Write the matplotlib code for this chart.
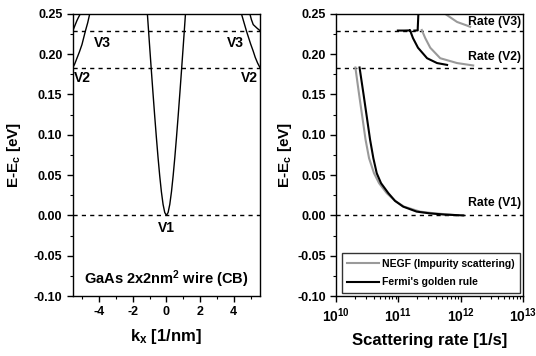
import matplotlib
matplotlib.use("Agg")
import matplotlib.pyplot as plt
from matplotlib.ticker import MultipleLocator, LogLocator, NullFormatter, FormatStrFormatter

plt.rcParams['font.family'] = ['Liberation Sans', 'DejaVu Sans']
plt.rcParams['font.weight'] = 'bold'
plt.rcParams['mathtext.fontset'] = 'custom'
plt.rcParams['mathtext.rm'] = 'Liberation Sans:bold'
plt.rcParams['mathtext.it'] = 'Liberation Sans:bold'
plt.rcParams['mathtext.bf'] = 'Liberation Sans:bold'
plt.rcParams['mathtext.default'] = 'rm'
plt.rcParams['axes.unicode_minus'] = False

# ---------------- data ----------------
# band levels (subband minima)
levels = [0.0, 0.1834, 0.2293]

# V1 subband (centre of zone)
v1_k = [-1.14, -1.1, -1.0, -0.9, -0.8, -0.7, -0.6, -0.5, -0.4, -0.3, -0.2, -0.1, 0.0,
        0.1, 0.2, 0.3, 0.4, 0.5, 0.6, 0.7, 0.8, 0.9, 1.0, 1.1, 1.14]
v1_E = [0.2525, 0.2403, 0.2103, 0.1809, 0.1521, 0.1241, 0.0974, 0.0722, 0.0493, 0.0294, 0.0137, 0.0036, 0.0,
        0.0036, 0.0137, 0.0294, 0.0493, 0.0722, 0.0974, 0.1241, 0.1521, 0.1809, 0.2103, 0.2403, 0.2525]

# V2 subband (zone edges)
v2_left_k = [-5.56, -5.45, -5.32, -5.17, -5.02, -4.82, -4.68, -4.56]
v2_left_E = [0.1834, 0.188, 0.195, 0.203, 0.212, 0.2285, 0.239, 0.250]
v2_right_k = [5.56, 5.42, 5.28, 5.16, 5.0, 4.76, 4.6, 4.46]
v2_right_E = [0.1834, 0.189, 0.196, 0.2037, 0.213, 0.2285, 0.240, 0.250]

# V3 subband (zone edges)
v3_left_k = [-5.56, -5.45, -5.32, -5.22, -5.12]
v3_left_E = [0.2293, 0.235, 0.2417, 0.246, 0.250]
v3_right_k = [5.56, 5.4, 5.16, 5.05, 4.96]
v3_right_E = [0.2293, 0.232, 0.2367, 0.243, 0.250]

# scattering rates (1/s) vs energy (eV)
rate_v1_E = [0.1835, 0.15, 0.12, 0.094, 0.071, 0.0523, 0.04, 0.0276, 0.018, 0.0109, 0.0047, 0.0025, 0.001, 0.0]
fgr_v1 = [2.38e10, 2.76e10, 3.14e10, 3.51e10, 3.96e10, 4.49e10, 5.26e10, 6.89e10, 8.83e10,
          1.19e11, 1.96e11, 3.21e11, 5.58e11, 1.10e12]
negf_v1 = [2.04e10, 2.34e10, 2.66e10, 2.97e10, 3.38e10, 4.06e10, 4.89e10, 6.49e10, 8.83e10,
           1.23e11, 2.22e11, 3.86e11, 6.71e11, 9.02e11]

fgr_v2_E = [0.2293, 0.2293, 0.2295, 0.230, 0.220, 0.208, 0.195, 0.189, 0.1867]
fgr_v2 = [9.8e10, 1.25e11, 1.53e11, 1.53e11, 1.71e11, 2.06e11, 2.88e11, 4.16e11, 6.03e11]
negf_v2_E = [0.230, 0.220, 0.208, 0.195, 0.189, 0.186]
negf_v2 = [2.37e11, 2.69e11, 3.24e11, 4.68e11, 8.71e11, 1.58e12]

fgr_v3_E = [0.2293, 0.2295, 0.232, 0.250]
fgr_v3 = [1.8e11, 2.04e11, 2.04e11, 2.09e11]
negf_v3_E = [0.250, 0.240, 0.2355, 0.234]
negf_v3 = [5.62e11, 8.71e11, 1.26e12, 1.41e12]

ylim = (-0.10, 0.25)
kx_lim = (-5.56, 5.56)
rate_lim = (1e10, 1e13)

# ---------------- figure ----------------
fig = plt.figure(figsize=(5.36, 3.56), dpi=100)
axL = fig.add_axes([0.136, 0.1685, 0.349, 0.7925])
axR = fig.add_axes([0.627, 0.1685, 0.349, 0.7925])

band_kw = dict(color='black', lw=1.0)
axL.plot(v1_k, v1_E, **band_kw)
axL.plot(v2_left_k, v2_left_E, **band_kw)
axL.plot(v2_right_k, v2_right_E, **band_kw)
axL.plot(v3_left_k, v3_left_E, **band_kw)
axL.plot(v3_right_k, v3_right_E, **band_kw)

for ax in (axL, axR):
    for lv in levels:
        ax.axhline(lv, color='black', lw=1.0, ls=(0, (3, 3)), zorder=1)

axL.set_xlim(*kx_lim)
axL.set_ylim(*ylim)
axL.xaxis.set_major_locator(MultipleLocator(2))
axL.xaxis.set_minor_locator(MultipleLocator(1))
axL.set_xlabel('k$_x$ [1/nm]', fontsize=12, fontweight='bold', labelpad=6)

txt = dict(fontsize=10, fontweight='bold')
axL.text(-4.3, 0.214, 'V3', ha='left', va='center', **txt)
axL.text(3.6, 0.214, 'V3', ha='left', va='center', **txt)
axL.text(-5.5, 0.171, 'V2', ha='left', va='center', **txt)
axL.text(4.4, 0.171, 'V2', ha='left', va='center', **txt)
axL.text(0.0, -0.016, 'V1', ha='center', va='center', **txt)
axL.text(0.0, -0.079, 'GaAs 2x2nm$^2$ wire (CB)', ha='center', va='center', fontsize=10.5, fontweight='bold')

gray = '#9a9a9a'
l1, = axR.plot(negf_v1, rate_v1_E, color=gray, lw=1.5)
axR.plot(negf_v2, negf_v2_E, color=gray, lw=1.5)
axR.plot(negf_v3, negf_v3_E, color=gray, lw=1.5)
l2, = axR.plot(fgr_v1, rate_v1_E, color='black', lw=1.5)
axR.plot(fgr_v2, fgr_v2_E, color='black', lw=1.5)
axR.plot(fgr_v3, fgr_v3_E, color='black', lw=1.5)

axR.set_xscale('log')
axR.set_xlim(*rate_lim)
axR.set_ylim(*ylim)
axR.xaxis.set_major_locator(LogLocator(base=10, numticks=10))
axR.xaxis.set_minor_locator(LogLocator(base=10, subs=[2, 3, 4, 5, 6, 7, 8, 9], numticks=20))
axR.xaxis.set_minor_formatter(NullFormatter())
axR.set_xlabel('Scattering rate [1/s]', fontsize=12, fontweight='bold', labelpad=6)

rt = dict(transform=axR.get_yaxis_transform(), ha='right', va='center', fontsize=8.8, fontweight='bold')
axR.text(0.99, 0.240, 'Rate (V3)', **rt)
axR.text(0.99, 0.196, 'Rate (V2)', **rt)
axR.text(0.99, 0.0155, 'Rate (V1)', **rt)

leg = axR.legend([l1, l2], ['NEGF (Impurity scattering)', "Fermi's golden rule"],
                 loc='lower left', bbox_to_anchor=(0.03, 0.01), fontsize=7.5, frameon=True,
                 fancybox=False, edgecolor='black', handlelength=3.0, handletextpad=0.3,
                 borderpad=0.55, labelspacing=0.8, borderaxespad=0.0)
leg.get_frame().set_linewidth(1.0)
for t in leg.get_texts():
    t.set_fontweight('bold')

for ax, lp in ((axL, 8), (axR, 2)):
    ax.yaxis.set_major_locator(MultipleLocator(0.05))
    ax.yaxis.set_minor_locator(MultipleLocator(0.025))
    ax.yaxis.set_major_formatter(FormatStrFormatter('%.2f'))
    ax.set_ylabel('E-E$_c$ [eV]', fontsize=11, fontweight='bold', labelpad=lp)
    ax.tick_params(which='major', direction='out', length=4, width=1, labelsize=9)
    ax.tick_params(which='minor', direction='out', length=2, width=0.8)
    for s in ax.spines.values():
        s.set_linewidth(1.0)

axR.tick_params(axis='x', which='major', labelsize=10)
for ax in (axL, axR):
    for lab in ax.get_xticklabels() + ax.get_yticklabels():
        lab.set_fontweight('bold')

fig.savefig('out.png', dpi=100)
